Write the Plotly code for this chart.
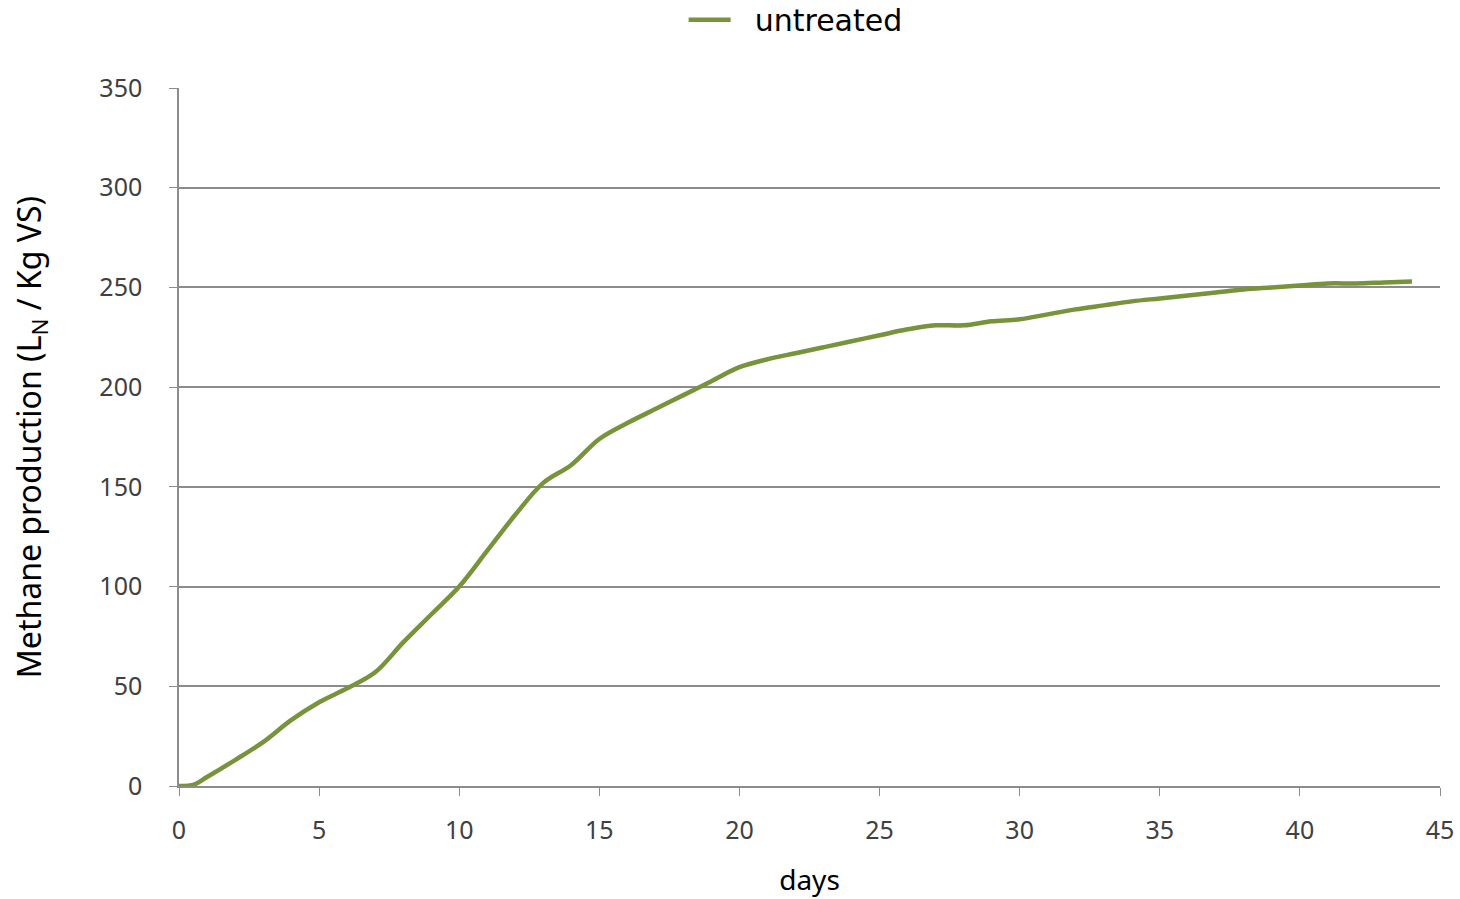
import plotly.graph_objects as go

days = [0, 0.5, 1, 2, 3, 4, 5, 6, 7, 8, 9, 10, 11, 12, 13, 14, 15, 16, 17, 18, 19, 20,
        21, 22, 23, 24, 25, 26, 27, 28, 29, 30, 31, 32, 33, 34, 35, 36, 37, 38, 39, 40,
        41, 42, 43, 44]
untreated = [0, 0.5, 4.5, 13, 22, 33, 42, 49, 57, 72, 86, 100, 118, 136, 152, 161, 174,
             182, 189, 196, 203, 210, 214, 217, 220, 223, 226, 229, 231, 231, 233, 234,
             236.5, 239, 241, 243, 244.5, 246, 247.5, 249, 250, 251, 252, 252, 252.5, 253]

x_ticks = [0, 5, 10, 15, 20, 25, 30, 35, 40, 45]
y_ticks = [0, 50, 100, 150, 200, 250, 300, 350]

fig = go.Figure()
fig.add_trace(go.Scatter(
    x=days, y=untreated, mode="lines", name="\u00a0\u00a0untreated",
    line=dict(color="#77933C", width=4.5, shape="spline", smoothing=1.0),
))

axis_font = dict(family="Noto Sans", size=25, color="#404040")
fig.update_layout(
    width=1460, height=899,
    margin=dict(l=179, r=20, t=88, b=113),
    paper_bgcolor="white", plot_bgcolor="white",
    showlegend=True,
    legend=dict(orientation="h", x=0.489, xanchor="center", y=0.978, yanchor="middle",
                yref="container", font=dict(family="DejaVu Sans", size=30, color="black"),
                itemwidth=42),
    xaxis=dict(range=[0, 45], tickvals=x_ticks, showgrid=False, zeroline=False,
               automargin=False,
               showline=True, linecolor="#8c8c8c", linewidth=1.5,
               ticks="outside", ticklen=8, tickcolor="#8c8c8c",
               tickfont=axis_font, ticklabelstandoff=13,
               title=dict(text="days", font=dict(family="Noto Sans", size=28, color="black"),
                          standoff=26)),
    yaxis=dict(range=[0, 350], tickvals=y_ticks, showgrid=True, gridcolor="#8c8c8c",
               gridwidth=1.5, zeroline=False, automargin=False,
               showline=True, linecolor="#8c8c8c", linewidth=1.5,
               ticks="outside", ticklen=8, tickcolor="#8c8c8c",
               tickfont=axis_font, ticklabelstandoff=22,
               title=dict(text="Methane production (L<sub>N</sub> / Kg VS)",
                          font=dict(family="Noto Sans", size=32, color="black"),
                          standoff=48)),
)
fig.write_html("out.html")
